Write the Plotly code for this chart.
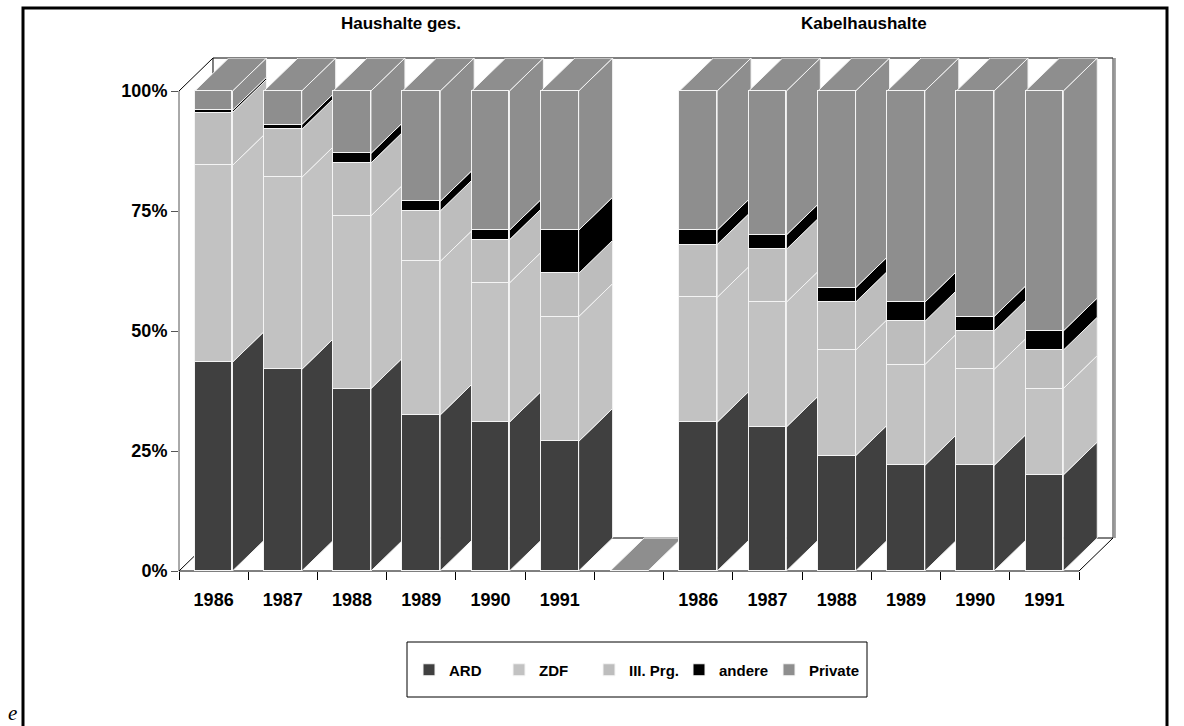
import plotly.graph_objects as go

# ---------------- data ----------------
categories = ["1986", "1987", "1988", "1989", "1990", "1991", "",
              "1986", "1987", "1988", "1989", "1990", "1991"]
series_names = ["ARD", "ZDF", "III. Prg.", "andere", "Private"]
ard = [43.5, 42, 38, 32.5, 31, 27, 0, 31, 30, 24, 22, 22, 20]
zdf = [41, 40, 36, 32, 29, 26, 0, 26, 26, 22, 21, 20, 18]
iii = [11, 10, 11, 10.5, 9, 9, 0, 11, 11, 10, 9, 8, 8]
andere = [0.5, 1, 2, 2, 2, 9, 0, 3, 3, 3, 4, 3, 4]
private = [4, 7, 13, 23, 29, 29, 0, 29, 30, 41, 44, 47, 50]
group_titles = ["Haushalte ges.", "Kabelhaushalte"]
y_tickvals = [0, 25, 50, 75, 100]
y_ticktext = ["0%", "25%", "50%", "75%", "100%"]

series_values = [ard, zdf, iii, andere, private]
colors = ["#404040", "#c2c2c2", "#bdbdbd", "#000000", "#8e8e8e"]

# ---------------- geometry ----------------
W, H = 1184, 726
ML, MR, MT, MB = 179, 71, 58, 155
PW, PH = W - ML - MR, H - MT - MB
BAR_W = 0.545
DX = 0.491      # depth offset, category units
DY = 6.875      # depth offset, percent units
XMIN, XMAX = -0.5, len(categories) - 0.5 + DX
YMIN, YMAX = 0, 100 + DY
FONT = "Liberation Sans, Arial, sans-serif"


def px_x(p):
    return (p - ML) / PW


def px_y(p):
    return (H - MB - p) / PH


xs = list(range(len(categories)))

fig = go.Figure()

# side and top faces (behind fronts)
cum = [0.0] * len(categories)
bottoms = []
for vals in series_values:
    bottoms.append(cum[:])
    cum = [c + v for c, v in zip(cum, vals)]
totals = cum

for j, (name, vals) in enumerate(zip(series_names, series_values)):
    sx, sy = [], []
    for i, v in enumerate(vals):
        if v <= 0:
            continue
        b = bottoms[j][i]
        t = b + v
        xr = xs[i] + BAR_W / 2
        sx += [xr, xr, xr + DX, xr + DX, xr, None]
        sy += [b, t, t + DY, b + DY, b, None]
    fig.add_trace(go.Scatter(x=sx, y=sy, mode="lines", fill="toself",
                             fillcolor=colors[j],
                             line=dict(color="#f4f4f4", width=1),
                             hoverinfo="skip", showlegend=False, zorder=0))

# top faces: colour of the uppermost non-zero series
for j in range(len(series_names)):
    tx, ty = [], []
    for i in range(len(categories)):
        top_j = len(series_names) - 1
        for k in range(len(series_names) - 1, -1, -1):
            if series_values[k][i] > 0:
                top_j = k
                break
        if top_j != j:
            continue
        T = totals[i]
        xl = xs[i] - BAR_W / 2
        xr = xs[i] + BAR_W / 2
        tx += [xl, xr, xr + DX, xl + DX, xl, None]
        ty += [T, T, T + DY, T + DY, T, None]
    if tx:
        fig.add_trace(go.Scatter(x=tx, y=ty, mode="lines", fill="toself",
                                 fillcolor=colors[j],
                                 line=dict(color="#f4f4f4", width=1),
                                 hoverinfo="skip", showlegend=False, zorder=0))

# front faces
for j, (name, vals) in enumerate(zip(series_names, series_values)):
    fig.add_trace(go.Bar(x=xs, y=vals, name=name, width=BAR_W,
                         marker=dict(color=colors[j],
                                     line=dict(color="#f4f4f4", width=1)),
                         hoverinfo="skip", zorder=1))

# ---------------- walls / floor ----------------
shapes = []
line_k = dict(color="#000000", width=1)
# front floor edge (x axis)
shapes.append(dict(type="line", xref="x", yref="paper", x0=-0.5, x1=len(categories) - 0.5,
                   y0=0, y1=0, line=line_k, layer="below"))
# left wall vertical (y axis)
shapes.append(dict(type="line", xref="paper", yref="y", x0=0, x1=0, y0=0, y1=100,
                   line=dict(color="#555555", width=1), layer="below"))
# left wall diagonals
for yy in (0, 100):
    shapes.append(dict(type="line", xref="x", yref="y", x0=-0.5, x1=-0.5 + DX,
                       y0=yy, y1=yy + DY, line=line_k, layer="below"))
# back wall left vertical
shapes.append(dict(type="line", xref="x", yref="y", x0=-0.5 + DX, x1=-0.5 + DX,
                   y0=DY, y1=100 + DY, line=line_k, layer="below"))
# back wall top edge
shapes.append(dict(type="line", xref="x", yref="paper", x0=-0.5 + DX, x1=XMAX,
                   y0=1, y1=1, line=line_k, layer="below"))
# back floor edge
shapes.append(dict(type="line", xref="x", yref="y", x0=-0.5 + DX, x1=XMAX,
                   y0=DY, y1=DY, line=line_k, layer="below"))
# right floor diagonal
shapes.append(dict(type="line", xref="x", yref="y", x0=len(categories) - 0.5, x1=XMAX,
                   y0=0, y1=DY, line=line_k, layer="below"))
# right wall vertical (with grey shadow)
shapes.append(dict(type="line", xref="paper", yref="y", x0=1.002, x1=1.002,
                   y0=DY, y1=100 + DY, line=dict(color="#9a9a9a", width=2), layer="below"))
shapes.append(dict(type="line", xref="paper", yref="y", x0=1, x1=1,
                   y0=DY, y1=100 + DY, line=dict(color="#333333", width=1), layer="below"))
# legend box
shapes.append(dict(type="rect", xref="paper", yref="paper",
                   x0=px_x(407), x1=px_x(867), y0=px_y(697), y1=px_y(642),
                   line=dict(color="#000000", width=1)))
# outer frame
shapes.append(dict(type="rect", xref="paper", yref="paper",
                   x0=px_x(23), x1=px_x(1167), y0=px_y(760), y1=px_y(8),
                   line=dict(color="#000000", width=3)))

annotations = []
for title, cx in zip(group_titles, (401, 864)):
    annotations.append(dict(text=title, xref="paper", yref="paper", x=px_x(cx), y=px_y(24),
                            xanchor="center", yanchor="middle", showarrow=False,
                            font=dict(family=FONT, size=17, color="#000000", weight="bold")))
annotations.append(dict(text="e", xref="paper", yref="paper", x=px_x(6), y=px_y(699),
                        xanchor="left", yanchor="top", showarrow=False,
                        font=dict(family="Liberation Serif, serif", size=21,
                                  color="#000000", style="italic")))

tick_pos = [x for x, c in zip(xs, categories) if c]
tick_txt = [c for c in categories if c]
boundaries = [x - 0.5 for x in xs] + [xs[-1] + 0.5]

fig.update_layout(
    width=W, height=H,
    margin=dict(l=ML, r=MR, t=MT, b=MB, autoexpand=False),
    paper_bgcolor="white", plot_bgcolor="white",
    barmode="stack", bargap=0,
    showlegend=True,
    legend=dict(orientation="h", x=px_x(409), xanchor="left", y=px_y(670), yanchor="middle",
                bgcolor="rgba(0,0,0,0)", borderwidth=0, entrywidth=45,
                entrywidthmode="pixels", traceorder="normal",
                font=dict(family=FONT, size=15, color="#000000", weight="bold")),
    xaxis=dict(range=[XMIN, XMAX], showgrid=False, zeroline=False, showline=False,
               tickmode="array", tickvals=tick_pos, ticktext=tick_txt,
               ticks="outside", ticklen=8, tickcolor="rgba(0,0,0,0)",
               ticklabelstandoff=4,
               minor=dict(tickmode="array", tickvals=boundaries, ticks="outside",
                          ticklen=8, tickcolor="#000000", tickwidth=1, showgrid=False),
               tickfont=dict(family=FONT, size=18, color="#000000", weight="bold"),
               fixedrange=True),
    yaxis=dict(range=[YMIN, YMAX], showgrid=False, zeroline=False, showline=False,
               tickmode="array", tickvals=y_tickvals, ticktext=y_ticktext,
               ticks="outside", ticklen=7, tickcolor="#555555",
               tickfont=dict(family=FONT, size=18, color="#000000", weight="bold"),
               fixedrange=True),
    shapes=shapes, annotations=annotations,
    hovermode=False,
)

fig.write_html("out.html", config={"displayModeBar": False},
               post_script="document.body.style.margin='0px';")
